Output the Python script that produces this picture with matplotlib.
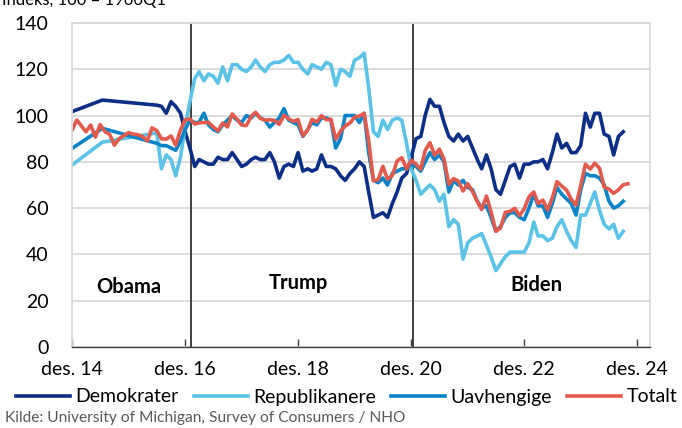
import matplotlib
matplotlib.use('Agg')
import matplotlib.pyplot as plt
import pandas as pd

plt.rcParams['font.family'] = ['Lato', 'DejaVu Sans']

# --- data (indeks, 100 = 1966Q1) ---
series_names = ['Demokrater', 'Republikanere', 'Uavhengige', 'Totalt']
colors = ['#0b2f86', '#5bc3e8', '#0a84c8', '#e35a4c']

# partisan series: sparse points before mid-2016, then monthly
early_dates = ['2014-12-01', '2015-06-15', '2016-06-01']
monthly_dates = pd.date_range('2016-07-01', '2024-09-01', freq='MS')
party_dates = list(pd.to_datetime(early_dates)) + list(monthly_dates)

dem = [101.7, 106.7, 104.5,
       104, 101, 106, 104, 101, 93,
       86, 78, 81, 80, 79, 79, 82, 81, 81, 84, 81, 78,
       79, 81, 82, 81, 81, 84, 80, 73, 78, 79, 78, 84,
       76, 77, 76, 77, 83, 78, 78, 77, 74, 72, 75, 77,
       80, 78, 67, 56, 57, 58, 56, 62, 67, 73, 75, 82,
       90, 91, 100, 107, 104, 104, 97, 91, 89, 92, 89, 91,
       86, 81, 77, 83, 77, 68, 66, 72, 78, 79, 73, 79,
       79, 80, 80, 81, 77, 84, 92, 86, 88, 84, 84, 87,
       101, 95, 101, 101, 92, 91, 83, 91, 93]
rep = [78.6, 88.5, 92.5,
       77, 83, 81, 74, 82, 95,
       106, 116, 119, 115, 118, 117, 114, 121, 115, 122, 122, 120,
       119, 121, 124, 121, 119, 122, 123, 123, 124, 126, 123, 123,
       120, 118, 122, 121, 120, 123, 122, 113, 120, 119, 117, 124,
       125, 127, 112, 93, 91, 98, 94, 98, 99, 98, 88, 77,
       72, 66, 68, 70, 68, 63, 66, 52, 55, 53, 38, 45,
       47, 48, 49, 44, 39, 33, 36, 39, 41, 41, 41, 41,
       45, 54, 48, 48, 46, 47, 52, 55, 50, 46, 43, 57,
       57, 62, 67, 59, 53, 51, 53, 47, 50]
ind = [85.8, 94.5, 88,
       87, 87, 86, 85, 89, 94,
       98, 97, 97, 101, 96, 94, 93, 96, 98, 100, 98, 97,
       100, 99, 101, 99, 98, 95, 97, 99, 103, 98, 97, 96,
       91, 94, 97, 96, 99, 99, 98, 86, 90, 100, 100, 100,
       97, 101, 84, 72, 71, 73, 70, 75, 76, 77, 77, 79,
       78, 76, 80, 84, 81, 83, 80, 67, 72, 70, 72, 69,
       68, 63, 60, 61, 56, 50, 52, 56, 58, 58, 56, 55,
       60, 66, 61, 61, 56, 62, 69, 66, 64, 62, 57, 68,
       75, 74, 74, 73, 70, 63, 60, 61, 63]

total_dates = pd.date_range('2014-12-01', '2024-10-01', freq='MS')
total = [93.6,
         98.1, 95.4, 93.0, 95.9, 90.7, 96.1, 93.1, 91.9, 87.2, 90.0, 91.3, 92.6,
         92.0, 91.7, 91.0, 89.0, 94.7, 93.5, 90.0, 89.8, 91.2, 87.2, 93.8, 98.2,
         98.5, 96.3, 96.9, 97.0, 97.1, 95.1, 93.4, 96.8, 95.1, 100.7, 98.5, 95.9,
         95.7, 99.7, 101.4, 98.8, 98.0, 98.2, 97.9, 96.2, 100.1, 98.6, 97.5, 98.3,
         91.2, 93.8, 98.4, 97.2, 100.0, 98.2, 98.4, 89.8, 93.2, 95.5, 96.8, 99.3,
         99.8, 101.0, 89.1, 71.8, 72.3, 78.1, 72.5, 74.1, 80.4, 81.8, 76.9, 80.7,
         79.0, 76.8, 84.9, 88.3, 82.9, 85.5, 81.2, 70.3, 72.8, 71.7, 67.4, 70.6,
         67.2, 62.8, 59.4, 65.2, 58.4, 50.0, 51.5, 58.2, 58.6, 59.9, 56.8, 59.7,
         64.9, 67.0, 62.0, 63.5, 59.2, 64.4, 71.5, 69.5, 67.8, 63.8, 61.3, 69.7,
         79.0, 76.9, 79.4, 77.2, 69.1, 68.2, 66.4, 67.9, 70.1, 70.5]

presidents = ['Obama', 'Trump', 'Biden']
term_starts = ['2017-01-05', '2020-12-12']
tick_labels = ['des. 14', 'des. 16', 'des. 18', 'des. 20', 'des. 22', 'des. 24']

# --- figure ---
fig = plt.figure(figsize=(6.82, 4.28), dpi=100)
ax = fig.add_axes([72 / 682, 81 / 428, 578 / 682, 324 / 428])

for name, vals, c in zip(series_names[:3], [dem, rep, ind], colors[:3]):
    ax.plot(party_dates, vals, color=c, lw=2.6, label=name, solid_joinstyle='round')
ax.plot(total_dates, total, color=colors[3], lw=2.6, label=series_names[3], solid_joinstyle='round')

for d in term_starts:
    ax.axvline(pd.Timestamp(d), color='#333333', lw=1.3, zorder=1)

ax.set_ylim(0, 140)
ax.set_yticks(range(0, 141, 20))
ax.set_xlim(pd.Timestamp('2014-12-01'), pd.Timestamp('2025-02-21'))
ax.set_xticks(pd.date_range('2014-12-01', '2024-12-01', freq='24MS'))
ax.set_xticklabels(tick_labels)

ax.yaxis.grid(True, color='#d9d9d9', lw=1.3)
ax.set_axisbelow(True)
for s in ['left', 'top', 'right']:
    ax.spines[s].set_color('#d9d9d9')
    ax.spines[s].set_linewidth(1.3)
ax.spines['bottom'].set_color('#404040')
ax.spines['bottom'].set_linewidth(1.0)
ax.tick_params(axis='y', length=0, labelsize=14, pad=17)
ax.tick_params(axis='x', direction='in', length=6, width=1, color='#404040', labelsize=14, pad=10)

# period labels
label_pos = [('2015-12-01', 26), ('2018-12-01', 27.5), ('2023-02-15', 27)]
for name, (d, y) in zip(presidents, label_pos):
    ax.text(pd.Timestamp(d), y, name, fontsize=14.5, fontweight='bold', ha='center', va='center')

fig.legend(loc='center', bbox_to_anchor=(0.508, 1 - 397 / 428), ncol=4, frameon=False,
           fontsize=14, handlelength=2.8, handletextpad=0.25, columnspacing=0.78,
           borderaxespad=0, borderpad=0)

fig.text(5 / 682, 1 - 418 / 428, 'Kilde: University of Michigan, Survey of Consumers / NHO',
         fontsize=11.2, color='#595959', va='center')
# the reference crops this unit label at the top edge
fig.text(2 / 682, 1 - 4.5 / 428, 'Indeks, 100 = 1966Q1', fontsize=12, va='baseline')

fig.savefig('out.png', dpi=100)
